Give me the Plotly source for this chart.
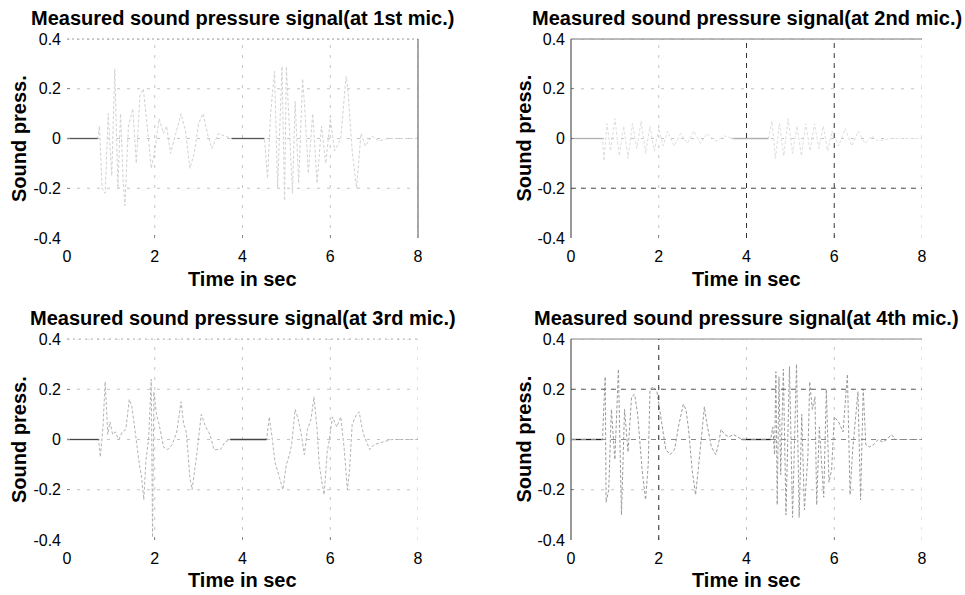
import plotly.graph_objects as go

# time (s) and sound pressure
t_mic1 = [0, 0.7, 0.74, 0.8, 0.87, 0.94, 1.02, 1.09, 1.16, 1.22, 1.28, 1.32, 1.4, 1.5, 1.58,
          1.66, 1.74, 1.8, 1.85, 1.92, 2.0, 2.1, 2.2, 2.27, 2.36, 2.48, 2.6, 2.7, 2.8, 2.9,
          3.0, 3.1, 3.2, 3.3, 3.45, 3.6, 3.75, 3.9, 4.5, 4.57, 4.64, 4.73, 4.8, 4.9, 4.96,
          5.0, 5.07, 5.14, 5.2, 5.28, 5.37, 5.42, 5.5, 5.6, 5.7, 5.8, 5.9, 6.0, 6.1, 6.24,
          6.36, 6.4, 6.5, 6.6, 6.7, 6.8, 6.95, 7.1, 7.3, 8.0]
p_mic1 = [0, 0, 0.05, -0.2, -0.22, 0.1, -0.15, 0.28, -0.2, 0.1, -0.17, -0.27, 0.05, 0.12, -0.1,
          0.17, 0.2, 0.08, 0.01, -0.12, -0.05, 0.08, 0.02, 0.05, -0.06, 0.02, 0.1, 0.03, -0.12, -0.06,
          0.06, 0.1, 0.02, -0.04, 0.02, 0.01, 0, 0, 0, -0.16, 0.1, 0.27, -0.2, 0.29, -0.25,
          0.29, 0.01, -0.22, 0.15, -0.18, 0.24, 0.12, -0.14, 0.1, -0.18, 0.05, -0.1, 0.08, -0.05, 0,
          0.25, 0.2, -0.05, -0.2, 0.02, -0.03, 0.01, -0.01, 0, 0]

t_mic2 = [0, 0.72, 0.75, 0.82, 0.9, 1.0, 1.1, 1.2, 1.3, 1.4, 1.5, 1.6, 1.7, 1.8, 1.9, 2.0,
          2.1, 2.2, 2.35, 2.5, 2.65, 2.8, 2.95, 3.1, 3.3, 3.5, 3.7, 4.5, 4.58, 4.66, 4.75,
          4.85, 4.95, 5.05, 5.15, 5.25, 5.35, 5.45, 5.55, 5.65, 5.75, 5.85, 5.95, 6.1, 6.25,
          6.4, 6.55, 6.7, 6.85, 7.0, 7.3, 8.0]
p_mic2 = [0, 0, -0.09, 0.06, -0.05, 0.08, -0.07, 0.05, -0.08, 0.06, -0.04, 0.07, -0.06, 0.05, -0.05, 0.04,
          -0.03, 0.03, -0.03, 0.02, -0.02, 0.03, -0.02, 0.02, -0.01, 0.01, 0, 0, 0.07, -0.08, 0.06,
          -0.07, 0.08, -0.06, 0.05, -0.07, 0.06, -0.05, 0.06, -0.04, 0.05, -0.05, 0.03, -0.03, 0.04,
          -0.03, 0.03, -0.02, 0.01, -0.01, 0, 0]

t_mic3 = [0, 0.72, 0.76, 0.82, 0.87, 0.93, 0.98, 1.04, 1.1, 1.18, 1.26, 1.34, 1.42, 1.48, 1.54,
          1.6, 1.65, 1.7, 1.75, 1.8, 1.86, 1.92, 1.95, 1.98, 2.04, 2.1, 2.2, 2.3, 2.4, 2.5,
          2.6, 2.66, 2.72, 2.8, 2.85, 2.95, 3.06, 3.16, 3.26, 3.35, 3.5, 3.6, 3.72, 4.55, 4.61,
          4.68, 4.74, 4.84, 4.92, 5.0, 5.07, 5.12, 5.2, 5.27, 5.33, 5.41, 5.48, 5.56, 5.63, 5.7,
          5.75, 5.8, 5.86, 5.93, 5.98, 6.05, 6.15, 6.24, 6.32, 6.39, 6.44, 6.5, 6.6, 6.66, 6.72,
          6.78, 6.9, 7.0, 7.2, 7.4, 8.0]
p_mic3 = [0, 0, -0.07, 0.05, 0.23, 0.02, 0.07, 0.02, 0.03, 0, 0.03, 0.04, 0.16, 0.13, 0.05,
          -0.04, -0.1, -0.15, -0.24, -0.08, 0, 0.24, -0.39, 0.19, 0.1, 0.06, -0.03, -0.04, -0.02, 0.03,
          0.15, 0.06, 0.03, -0.15, -0.2, -0.07, 0.1, 0.05, 0.02, -0.04, -0.04, -0.01, 0, 0, 0.09,
          0, -0.09, -0.15, -0.2, -0.1, -0.06, -0.02, 0.12, 0.08, 0.03, -0.06, 0.04, 0.08, 0.17, 0.04,
          -0.1, -0.16, -0.22, -0.05, 0, 0.09, 0.05, 0.09, -0.04, -0.2, -0.12, 0.06, 0.1, 0.11, 0.05,
          0.01, -0.04, -0.02, -0.01, 0, 0]

t_mic4 = [0, 0.72, 0.74, 0.78, 0.8, 0.86, 0.92, 1.0, 1.08, 1.15, 1.22, 1.3, 1.38, 1.45, 1.52,
          1.58, 1.62, 1.7, 1.76, 1.8, 1.88, 1.96, 2.02, 2.08, 2.16, 2.26, 2.36, 2.46, 2.56, 2.62,
          2.68, 2.76, 2.84, 2.9, 2.98, 3.04, 3.1, 3.2, 3.3, 3.36, 3.42, 3.5, 3.6, 3.7, 3.8,
          3.9, 4.55, 4.6, 4.64, 4.67, 4.7, 4.74, 4.78, 4.84, 4.9, 4.98, 5.05, 5.1, 5.14, 5.2,
          5.26, 5.32, 5.4, 5.44, 5.5, 5.56, 5.6, 5.66, 5.72, 5.76, 5.82, 5.88, 5.94, 6.0, 6.1,
          6.2, 6.3, 6.36, 6.42, 6.48, 6.54, 6.6, 6.66, 6.72, 6.8, 6.9, 7.0, 7.1, 7.2, 7.3,
          7.4, 8.0]
p_mic4 = [0, 0, 0.1, 0.25, -0.25, -0.2, 0.12, -0.08, 0.28, -0.3, 0.12, -0.05, 0.17, 0.18, 0.1,
          -0.02, -0.12, -0.24, -0.1, 0.2, 0.21, 0.19, 0.12, 0.04, -0.04, -0.06, -0.04, 0.06, 0.14, 0.12,
          0.04, -0.12, -0.22, -0.12, 0.04, 0.13, 0.06, -0.03, -0.06, -0.02, 0.04, 0.02, 0.01, 0.02, 0.01,
          0, 0, 0.05, -0.06, 0.27, -0.26, 0.25, -0.14, 0.28, -0.3, 0.29, -0.31, 0.06, 0.3, -0.31,
          0.1, -0.28, -0.06, 0.23, 0.12, 0.17, -0.26, 0.05, -0.11, -0.23, 0.2, -0.17, -0.12, 0.09, 0.07,
          0.03, 0.26, -0.22, -0.04, 0.08, 0.19, -0.24, 0.2, -0.02, -0.03, -0.02, 0, -0.01, 0, 0.02,
          0, 0]

mic_names = ["1st", "2nd", "3rd", "4th"]
signals = [(t_mic1, p_mic1), (t_mic2, p_mic2), (t_mic3, p_mic3), (t_mic4, p_mic4)]
line_colors = ["#d2d2d2", "#dedede", "#b4b4b4", "#9a9a9a"]
quiet_colors = ["#555555", "#b0b0b0", "#444444", "#222222"]

x_ticks = [0, 2, 4, 6, 8]
y_ticks = [-0.4, -0.2, 0, 0.2, 0.4]
y_tick_text = ["-0.4", "-0.2", "0", "0.2", "0.4"]
grid_x = [2, 4, 6, 8]
grid_y = [-0.2, 0, 0.2, 0.4]

W, H = 965, 595
x_domains = [[67 / W, 418 / W], [571 / W, 922 / W]]
y_domains = [[1 - 238 / H, 1 - 39 / H], [1 - 540 / H, 1 - 339 / H]]

fig = go.Figure()
font = "Liberation Sans, Arial, sans-serif"

for i, (t, p) in enumerate(signals):
    row, col = divmod(i, 2)
    n = "" if i == 0 else str(i + 1)
    fig.add_trace(go.Scatter(
        x=t, y=p, mode="lines", xaxis="x" + n, yaxis="y" + n,
        line=dict(color=line_colors[i], width=1, dash="3px,2px"), showlegend=False
    ))
    # the silent stretches between bursts print much darker in the scan
    qx, qy = [], []
    for k in range(len(t) - 1):
        if p[k] == 0 and p[k + 1] == 0 and t[k + 1] <= 4.6:
            qx += [t[k], t[k + 1], None]
            qy += [p[k], p[k + 1], None]
    fig.add_trace(go.Scatter(
        x=qx, y=qy, mode="lines", xaxis="x" + n, yaxis="y" + n,
        line=dict(color=quiet_colors[i], width=1.3), showlegend=False
    ))
    fig.update_layout(**{
        "xaxis" + n: dict(domain=x_domains[col], range=[0, 8], tickvals=x_ticks,
                          showgrid=False, zeroline=False, showline=False, automargin=False,
                          ticks="inside", ticklen=3, tickcolor="#888", ticklabelstandoff=7,
                          tickfont=dict(size=16, color="black", family=font),
                          anchor="y" + n),
        "yaxis" + n: dict(domain=y_domains[row], range=[-0.4, 0.4], tickvals=y_ticks,
                          ticktext=y_tick_text, showgrid=False, zeroline=False, showline=False,
                          automargin=False, ticks="inside", ticklen=3, tickcolor="#888",
                          ticklabelstandoff=5,
                          tickfont=dict(size=16, color="black", family=font),
                          anchor="x" + n),
    })
    xr, yr = "x" + n, "y" + n
    # dotted grid (MATLAB grid on)
    for gx in grid_x:
        fig.add_shape(type="line", xref=xr, yref=yr + " domain", x0=gx, x1=gx, y0=0, y1=1,
                      line=dict(color="#c4c4c4", width=1, dash="3px,7px"), layer="below")
    for gy in grid_y:
        fig.add_shape(type="line", xref=xr + " domain", yref=yr, x0=0, x1=1, y0=gy, y1=gy,
                      line=dict(color="#c4c4c4", width=1, dash="3px,7px"), layer="below")

    cx = (x_domains[col][0] + x_domains[col][1]) / 2
    cy = (y_domains[row][0] + y_domains[row][1]) / 2
    top = [1 - 18 / H, 1 - 318 / H][row]
    xlab = [1 - 279 / H, 1 - 580 / H][row]
    ylab_x = [18.5 / W, 523 / W][col]
    fig.add_annotation(text=f"<b>Measured sound pressure signal(at {mic_names[i]} mic.)</b>",
                       x=cx, y=top, xref="paper", yref="paper", showarrow=False,
                       xanchor="center", yanchor="middle", font=dict(size=20, color="black", family=font))
    fig.add_annotation(text="<b>Time in sec</b>", x=cx, y=xlab, xref="paper", yref="paper",
                       showarrow=False, xanchor="center", yanchor="middle",
                       font=dict(size=20, color="black", family=font))
    fig.add_annotation(text="<b>Sound press.</b>", x=ylab_x, y=cy, xref="paper", yref="paper",
                       showarrow=False, textangle=-90, xanchor="center", yanchor="middle",
                       font=dict(size=20, color="black", family=font))

# scanned box edges and the darker grid lines that survived the scan
edges = [
    ("x", "y", [(0, 1, 1, 1, "#999", "2px,3px"), (1, 1, 0, 1, "#555", "solid")]),
    ("x2", "y2", [(0, 0, 0, 1, "#333", "solid"), (0, 1, 1, 1, "#777", "solid"),
                  (0.5, 0.5, 0, 1, "#333", "5px,5px"), (0.75, 0.75, 0, 1, "#444", "5px,5px"),
                  (0, 1, 0.25, 0.25, "#555", "5px,5px")]),
    ("x3", "y3", [(0, 1, 1, 1, "#aaa", "2px,4px")]),
    ("x4", "y4", [(0, 0, 0, 1, "#333", "solid"), (0, 1, 1, 1, "#888", "solid"),
                  (0.25, 0.25, 0, 1, "#333", "5px,5px"), (0, 1, 0.75, 0.75, "#666", "5px,5px"),
                  (0, 1, 0.5, 0.5, "#888", "5px,5px")]),
]
for xr, yr, segs in edges:
    for x0, x1, y0, y1, c, d in segs:
        fig.add_shape(type="line", xref=xr + " domain", yref=yr + " domain",
                      x0=x0, x1=x1, y0=y0, y1=y1, line=dict(color=c, width=1, dash=d))

fig.update_layout(
    width=W, height=H,
    margin=dict(l=0, r=0, t=0, b=0),
    paper_bgcolor="white", plot_bgcolor="white",
    font=dict(family=font, color="black"),
)

# drop the browser's default 8px body margin so the figure sits at the window's corner
fig.write_html("out.html", config=dict(displayModeBar=False),
               post_script="document.body.style.margin = '0';")
